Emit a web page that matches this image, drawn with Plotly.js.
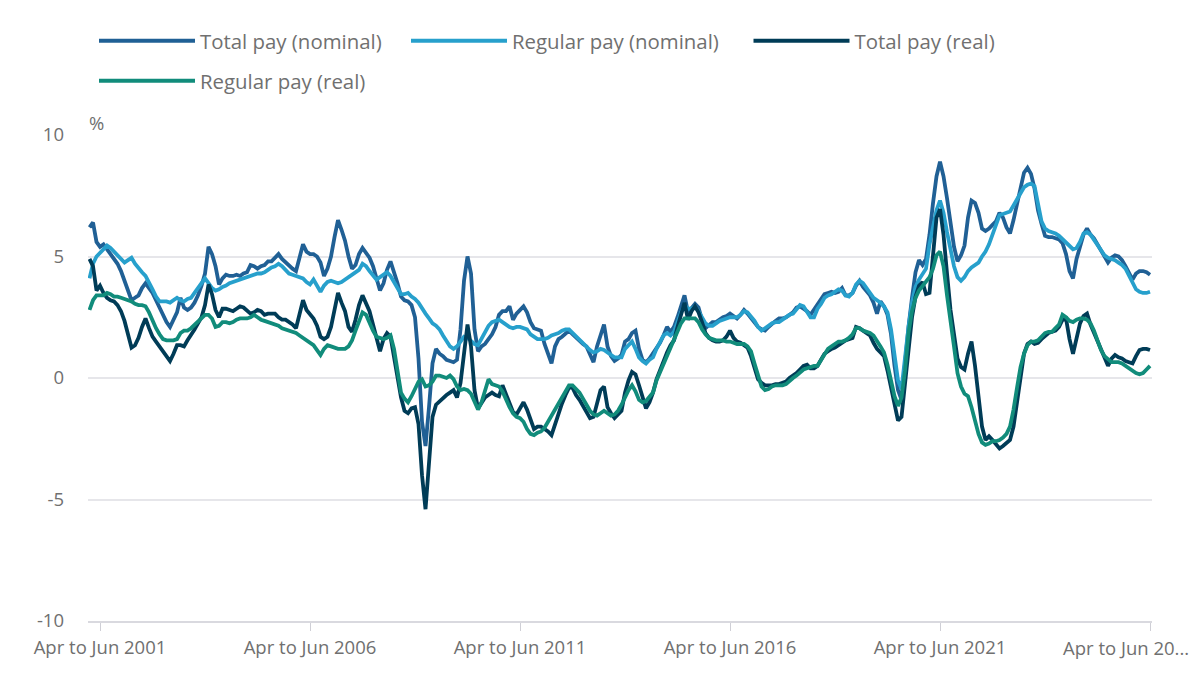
<!DOCTYPE html>
<html>
<head>
<meta charset="utf-8">
<script src="https://cdn.plot.ly/plotly-3.0.1.min.js"></script>
<style>
  html, body { margin: 0; padding: 0; background: #fff; }
  #chart { width: 1200px; height: 675px; }
</style>
</head>
<body>
<div id="chart"></div>
<script>
// rolling three-month periods, Jan to Mar 2001 .. Apr to Jun 2026
var monthNames = ['Jan', 'Feb', 'Mar', 'Apr', 'May', 'Jun', 'Jul', 'Aug', 'Sep', 'Oct', 'Nov', 'Dec'];
var firstYear = 2001;
var periodCount = 304;

var tickPeriods = ['Apr to Jun 2001', 'Apr to Jun 2006', 'Apr to Jun 2011', 'Apr to Jun 2016', 'Apr to Jun 2021', 'Apr to Jun 2026'];
var tickLabels = ['Apr to Jun 2001', 'Apr to Jun 2006', 'Apr to Jun 2011', 'Apr to Jun 2016', 'Apr to Jun 2021', ''];
var lastTickLabel = 'Apr to Jun 20...';

// % growth
var totalNominal = [
  6.2, 6.4, 5.6, 5.4, 5.5, 5.3, 5.1, 4.9, 4.7, 4.4,
  4.0, 3.6, 3.2, 3.3, 3.4, 3.7, 3.9, 3.7, 3.5, 3.2,
  2.9, 2.6, 2.3, 2.1, 2.4, 2.7, 3.3, 2.9, 2.8, 2.9,
  3.1, 3.4, 3.8, 4.3, 5.4, 5.1, 4.6, 3.85, 4.1, 4.25,
  4.2, 4.2, 4.25, 4.2, 4.3, 4.35, 4.65, 4.6, 4.5, 4.6,
  4.65, 4.8, 4.8, 4.95, 5.1, 4.9, 4.75, 4.6, 4.5, 4.4,
  5.0, 5.5, 5.2, 5.1, 5.1, 5.0, 4.75, 4.2, 4.5, 5.0,
  5.8, 6.5, 6.1, 5.65, 5.0, 4.5, 4.65, 5.1, 5.35, 5.15,
  4.95, 4.6, 4.05, 3.6, 3.9, 4.45, 4.8, 4.4, 3.9, 3.35,
  3.2, 3.15, 3.0, 2.5, 0.8, -1.8, -2.8, -1.2, 0.6, 1.2,
  1.0, 0.9, 0.75, 0.7, 0.65, 0.75, 2.0, 4.0, 5.0, 4.3,
  2.0, 1.1, 1.3, 1.4, 1.6, 1.8, 2.1, 2.6, 2.75, 2.75,
  2.95, 2.4, 2.65, 2.8, 2.95, 2.7, 2.3, 2.05, 2.0, 1.95,
  1.4, 1.0, 0.6, 1.3, 1.6, 1.7, 1.85, 1.95, 1.8, 1.65,
  1.5, 1.4, 1.3, 1.0, 0.65, 1.3, 1.8, 2.2, 1.3, 0.9,
  0.7, 0.8, 0.95, 1.5, 1.6, 1.85, 1.95, 1.2, 0.75, 0.65,
  0.8, 1.0, 1.2, 1.45, 1.75, 2.1, 1.9, 2.1, 2.5, 2.9,
  3.4, 2.7, 2.9, 3.05, 2.9, 2.4, 2.05, 2.2, 2.3, 2.3,
  2.4, 2.5, 2.55, 2.65, 2.55, 2.45, 2.6, 2.8, 2.65, 2.45,
  2.3, 2.1, 2.0, 1.95, 2.1, 2.25, 2.35, 2.45, 2.45, 2.5,
  2.6, 2.7, 2.9, 2.95, 2.85, 2.75, 2.6, 2.8, 3.0, 3.2,
  3.45, 3.5, 3.55, 3.5, 3.55, 3.7, 3.4, 3.4, 3.5, 3.8,
  4.0, 3.75, 3.55, 3.4, 3.1, 2.65, 3.15, 2.95, 2.6, 1.8,
  0.5, -0.5, -0.9, 0.65, 2.1, 3.3, 4.35, 4.85, 4.65, 4.9,
  5.9, 7.2, 8.3, 8.9, 8.3, 7.4, 6.3, 5.4, 4.8, 5.05,
  5.45, 6.6, 7.3, 7.2, 6.8, 6.15, 6.05, 6.15, 6.3, 6.45,
  6.8, 6.6, 6.2, 5.95, 6.5, 7.1, 7.7, 8.45, 8.65, 8.4,
  7.8, 6.9, 6.35, 5.85, 5.8, 5.8, 5.75, 5.7, 5.55, 5.1,
  4.4, 4.1, 4.9, 5.4, 5.9, 6.15, 5.9, 5.75, 5.5, 5.3,
  5.0, 4.75, 4.95, 5.05, 5.0, 4.85, 4.6, 4.35, 4.05, 4.3,
  4.4, 4.4, 4.35, 4.25
];

var regularNominal = [
  4.1, 4.7, 5.0, 5.15, 5.3, 5.45, 5.35, 5.2, 5.1, 4.9,
  4.75, 4.85, 4.95, 4.7, 4.5, 4.35, 4.2, 3.95, 3.65, 3.35,
  3.15, 3.15, 3.15, 3.1, 3.2, 3.3, 3.2, 3.15, 3.25, 3.3,
  3.5, 3.7, 3.9, 4.1, 3.9, 3.7, 3.6, 3.65, 3.75, 3.8,
  3.9, 3.95, 4.0, 4.05, 4.1, 4.15, 4.2, 4.25, 4.3, 4.3,
  4.35, 4.45, 4.55, 4.6, 4.7, 4.6, 4.45, 4.3, 4.25, 4.2,
  4.15, 4.1, 3.95, 3.85, 4.05, 3.8, 3.55, 3.8, 3.95, 4.0,
  3.95, 3.9, 3.95, 4.05, 4.15, 4.25, 4.35, 4.45, 4.7, 4.6,
  4.4, 4.2, 4.05, 4.15, 4.25, 4.35, 4.2, 3.95, 3.7, 3.45,
  3.45, 3.5, 3.35, 3.25, 3.1, 2.85, 2.65, 2.45, 2.25, 2.15,
  2.0, 1.75, 1.55, 1.3, 1.2, 1.3, 1.5, 1.7, 1.65, 1.5,
  1.4, 1.35, 1.6, 1.9, 2.15, 2.3, 2.35, 2.4, 2.3, 2.2,
  2.1, 2.05, 2.1, 2.1, 2.05, 2.0, 1.8, 1.7, 1.6, 1.6,
  1.6, 1.65, 1.75, 1.8, 1.85, 1.95, 2.0, 2.0, 1.85, 1.75,
  1.6, 1.45, 1.3, 1.15, 1.05, 1.1, 1.2, 1.15, 1.05, 0.95,
  0.85, 0.85, 0.85, 1.2, 1.35, 1.5, 1.2, 0.85, 0.7, 0.6,
  0.75, 0.85, 1.2, 1.5, 1.75, 1.85, 1.75, 1.9, 2.35, 2.7,
  3.0, 2.85, 2.85, 2.95, 2.75, 2.5, 2.25, 2.15, 2.15, 2.25,
  2.35, 2.4, 2.45, 2.5, 2.5, 2.5, 2.6, 2.75, 2.7, 2.55,
  2.35, 2.1, 1.95, 2.05, 2.15, 2.25, 2.3, 2.3, 2.4, 2.5,
  2.6, 2.65, 2.85, 3.0, 2.95, 2.7, 2.5, 2.5, 2.85, 3.05,
  3.3, 3.4, 3.45, 3.55, 3.65, 3.6, 3.4, 3.35, 3.5, 3.85,
  4.0, 3.9, 3.7, 3.45, 3.3, 3.2, 3.1, 2.95, 2.7, 2.0,
  0.8, -0.1, -0.45, 0.9, 2.1, 3.1, 3.75, 4.05, 4.3, 4.5,
  5.5, 6.3, 6.9, 7.3, 6.8, 6.0, 5.3, 4.6, 4.15, 4.0,
  4.15, 4.4, 4.55, 4.65, 4.75, 5.0, 5.2, 5.5, 5.9, 6.25,
  6.7, 6.75, 6.8, 6.85, 7.1, 7.35, 7.55, 7.85, 7.95, 8.0,
  7.9, 7.1, 6.45, 6.15, 6.05, 6.0, 5.95, 5.85, 5.7, 5.55,
  5.4, 5.3, 5.35, 5.6, 5.95, 6.0, 5.9, 5.7, 5.45, 5.25,
  5.05, 4.95, 4.9, 4.85, 4.75, 4.65, 4.5, 4.2, 3.9, 3.65,
  3.55, 3.5, 3.5, 3.55
];

var totalReal = [
  4.9, 4.6, 3.6, 3.8, 3.5, 3.3, 3.2, 3.15, 3.0, 2.75,
  2.35, 1.8, 1.25, 1.35, 1.65, 2.1, 2.45, 2.05, 1.7, 1.5,
  1.3, 1.1, 0.9, 0.7, 1.0, 1.35, 1.35, 1.3, 1.55, 1.75,
  2.0, 2.25, 2.5, 3.0, 3.85, 3.45, 2.8, 2.5, 2.85, 2.85,
  2.8, 2.75, 2.85, 2.95, 2.9, 2.75, 2.65, 2.7, 2.8, 2.75,
  2.6, 2.65, 2.65, 2.65, 2.5, 2.4, 2.4, 2.3, 2.2, 2.05,
  2.7, 3.2, 2.8, 2.6, 2.45, 2.15, 1.7, 1.6, 1.7, 2.1,
  2.8, 3.5, 3.1, 2.75, 2.1, 1.9, 2.4, 3.0, 3.4, 3.1,
  2.75, 2.2, 1.65, 1.1, 1.6, 1.85, 1.7, 0.9, 0.15, -0.8,
  -1.35, -1.45, -1.25, -1.2, -1.9, -4.0, -5.4, -3.6, -1.6, -1.1,
  -0.95, -0.8, -0.7, -0.6, -0.5, -0.8, -0.2, 1.0, 2.2, 1.3,
  -0.5, -1.25, -1.0, -0.8, -0.7, -0.6, -0.7, -0.75, -0.3, -0.65,
  -1.1, -1.4, -1.5, -1.25, -1.0, -1.3, -1.75, -2.1, -2.0, -2.0,
  -2.1, -2.2, -2.35, -1.9, -1.45, -1.05, -0.7, -0.4, -0.4, -0.7,
  -0.9, -1.15, -1.4, -1.65, -1.6, -1.0, -0.5, -0.35, -1.2, -1.45,
  -1.65, -1.5, -1.35, -0.6, -0.1, 0.25, 0.15, -0.3, -0.85, -1.25,
  -1.0, -0.6, -0.05, 0.35, 0.7, 1.05, 1.35, 1.55, 2.1, 2.6,
  3.1, 2.4, 2.75, 2.95, 2.7, 2.3, 1.85, 1.65, 1.55, 1.5,
  1.5, 1.55, 1.7, 1.95, 1.65, 1.5, 1.45, 1.35, 1.25, 0.9,
  0.4, -0.05, -0.2, -0.3, -0.3, -0.3, -0.25, -0.25, -0.2, -0.15,
  0.0, 0.1, 0.2, 0.35, 0.5, 0.55, 0.4, 0.4, 0.5, 0.75,
  1.0, 1.1, 1.2, 1.25, 1.35, 1.45, 1.55, 1.6, 1.65, 2.1,
  2.05, 1.95, 1.85, 1.75, 1.45, 1.2, 1.05, 0.9, 0.3, -0.4,
  -1.15, -1.75, -1.6, -0.3, 1.3, 2.5, 3.35, 3.8, 3.95, 3.45,
  3.5, 5.1, 6.6, 6.95, 5.9, 4.3, 2.8, 1.8, 0.8, 0.45,
  0.35, 1.0, 1.5, 0.5, -0.9, -2.0, -2.55, -2.4, -2.55, -2.75,
  -2.9, -2.8, -2.65, -2.55, -2.0, -0.9, 0.2, 1.0, 1.4, 1.5,
  1.4, 1.45, 1.6, 1.75, 1.85, 1.9, 1.95, 2.1, 2.4, 2.45,
  1.6, 1.0, 1.7, 2.25, 2.55, 2.65, 2.2, 1.85, 1.6, 1.2,
  0.85, 0.5, 0.8, 0.95, 0.85, 0.8, 0.7, 0.65, 0.6, 0.9,
  1.15, 1.2, 1.2, 1.15
];

var regularReal = [
  2.8, 3.2, 3.4, 3.4, 3.4, 3.5, 3.45, 3.35, 3.35, 3.3,
  3.25, 3.2, 3.15, 3.05, 3.0, 3.0, 2.95, 2.7, 2.35, 2.05,
  1.8, 1.6, 1.55, 1.55, 1.55, 1.6, 1.85, 1.95, 1.95, 2.05,
  2.2, 2.3, 2.45, 2.6, 2.6, 2.45, 2.1, 2.15, 2.3, 2.3,
  2.25, 2.3, 2.4, 2.45, 2.45, 2.45, 2.5, 2.6, 2.5, 2.4,
  2.35, 2.3, 2.25, 2.2, 2.15, 2.05, 2.0, 1.95, 1.9, 1.85,
  1.75, 1.65, 1.55, 1.45, 1.35, 1.15, 0.95, 1.2, 1.35, 1.3,
  1.25, 1.2, 1.2, 1.2, 1.3, 1.55, 1.95, 2.35, 2.7, 2.6,
  2.25, 1.95, 1.7, 1.65, 1.6, 1.65, 1.75, 1.2, 0.35, -0.6,
  -0.85, -1.0, -0.75, -0.45, -0.15, -0.05, -0.35, -0.3, -0.15, 0.1,
  0.1, 0.05, 0.0, 0.1, -0.05, -0.35, -0.5, -0.45, -0.5, -0.65,
  -0.95, -1.3, -1.0, -0.5, -0.05, -0.25, -0.3, -0.35, -0.55, -0.9,
  -1.2, -1.45, -1.6, -1.65, -1.8, -2.1, -2.3, -2.35, -2.25, -2.2,
  -2.05, -1.8, -1.55, -1.25, -1.0, -0.75, -0.5, -0.3, -0.3, -0.45,
  -0.6, -0.85, -1.1, -1.35, -1.5, -1.55, -1.45, -1.35, -1.45, -1.55,
  -1.5, -1.35, -1.1, -0.75, -0.5, -0.3, -0.55, -0.9, -1.0, -0.95,
  -0.8, -0.6, -0.1, 0.25, 0.55, 0.85, 1.2, 1.55, 1.95, 2.25,
  2.45, 2.45, 2.45, 2.45, 2.3, 2.0, 1.8, 1.65, 1.6, 1.55,
  1.55, 1.55, 1.5, 1.5, 1.45, 1.4, 1.4, 1.4, 1.3, 1.1,
  0.6, 0.15, -0.35, -0.5, -0.45, -0.35, -0.3, -0.3, -0.3, -0.25,
  -0.1, 0.0, 0.1, 0.25, 0.35, 0.4, 0.45, 0.5, 0.5, 0.75,
  1.0, 1.2, 1.3, 1.4, 1.5, 1.5, 1.55, 1.65, 1.8, 2.05,
  2.05, 1.95, 1.9, 1.85, 1.75, 1.55, 1.3, 1.05, 0.55, -0.1,
  -0.75, -1.15, -0.8, 0.3, 1.85, 2.75, 3.3, 3.6, 3.8, 3.95,
  4.15, 4.5, 5.05, 5.2, 4.6, 3.4, 2.2, 1.3, 0.2, -0.35,
  -0.65, -0.75, -1.2, -1.7, -2.3, -2.65, -2.75, -2.7, -2.6, -2.6,
  -2.55, -2.45, -2.3, -2.0, -1.3, -0.4, 0.45, 1.0, 1.35, 1.5,
  1.5, 1.55, 1.7, 1.85, 1.9, 1.9, 2.05, 2.2, 2.6, 2.5,
  2.35, 2.3, 2.4, 2.45, 2.45, 2.4, 2.25, 1.95, 1.55, 1.15,
  0.9, 0.75, 0.65, 0.65, 0.65, 0.6, 0.5, 0.4, 0.3, 0.2,
  0.15, 0.2, 0.35, 0.5
];

var periods = [];
for (var i = 0; i < periodCount; i++) {
    var endMonth = i + 2;
    periods.push(monthNames[i % 12] + ' to ' + monthNames[endMonth % 12] + ' ' + (firstYear + Math.floor(endMonth / 12)));
}

var textColor = '#707070';
var fontFamily = '"Open Sans", "Noto Sans", sans-serif';

function line(name, values, color, legendId) {
    return {
        x: periods,
        y: values,
        name: name,
        type: 'scatter',
        mode: 'lines',
        line: { color: color, width: 3.8 },
        legend: legendId,
        hoverinfo: 'skip'
    };
}

var traces = [
    line('Total pay (nominal)', totalNominal, '#206095', 'legend'),
    line('Regular pay (nominal)', regularNominal, '#27a0cc', 'legend2'),
    line('Total pay (real)', totalReal, '#003c57', 'legend3'),
    line('Regular pay (real)', regularReal, '#118c7b', 'legend4')
];

// one legend box per entry so each sits where the original puts it
function legendAt(left, top) {
    return {
        orientation: 'h',
        x: (left - 88) / 1064,
        xanchor: 'left',
        yref: 'container',
        y: 1 - top / 675,
        yanchor: 'middle',
        itemwidth: 96,
        bgcolor: 'rgba(0,0,0,0)',
        font: { family: fontFamily, size: 20.4, color: textColor }
    };
}

var layout = {
    width: 1200,
    height: 675,
    margin: { l: 88, r: 48, t: 135, b: 54 },
    paper_bgcolor: '#ffffff',
    plot_bgcolor: '#ffffff',
    font: { family: fontFamily, color: textColor },
    showlegend: true,
    legend: legendAt(94, 41),
    legend2: legendAt(406, 41),
    legend3: legendAt(748.5, 41),
    legend4: legendAt(94, 81),
    xaxis: {
        type: 'category',
        range: [-0.43, 303.57],
        tickmode: 'array',
        tickvals: tickPeriods,
        ticktext: tickLabels,
        ticks: 'outside',
        ticklen: 8,
        tickwidth: 1,
        tickcolor: '#cfcfd6',
        ticklabelstandoff: 1,
        showgrid: false,
        showline: true,
        linecolor: '#d9d9df',
        linewidth: 2,
        zeroline: false,
        tickangle: 0,
        automargin: false,
        tickfont: { family: fontFamily, size: 18.5, color: textColor }
    },
    yaxis: {
        range: [-10, 10],
        tickmode: 'array',
        tickvals: [-10, -5, 0, 5, 10],
        ticktext: ['-10', '-5', '0', '5', '10'],
        showgrid: true,
        gridcolor: '#e6e6ea',
        gridwidth: 1.5,
        zeroline: false,
        showline: false,
        ticks: '',
        ticklabelstandoff: 23,
        automargin: false,
        tickfont: { family: fontFamily, size: 18.5, color: textColor }
    },
    annotations: [
        {
            text: '%',
            xref: 'paper', yref: 'paper',
            x: 0, y: 1,
            xanchor: 'left', yanchor: 'bottom',
            xshift: -1, yshift: -2,
            showarrow: false,
            font: { family: fontFamily, size: 18.5, color: textColor }
        },
        {
            text: lastTickLabel,
            xref: 'x', yref: 'paper',
            x: tickPeriods[tickPeriods.length - 1], y: 0,
            xanchor: 'right', yanchor: 'middle',
            xshift: 41, yshift: -26,
            showarrow: false,
            font: { family: fontFamily, size: 18.5, color: textColor }
        }
    ]
};

Plotly.newPlot('chart', traces, layout, { displayModeBar: false, responsive: false });
</script>
</body>
</html>
